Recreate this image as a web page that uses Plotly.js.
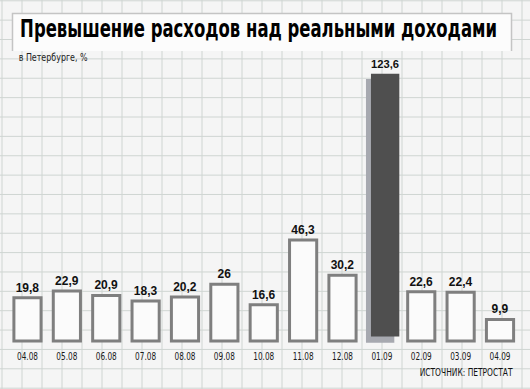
<!DOCTYPE html>
<html>
<head>
<meta charset="utf-8">
<script src="https://cdn.plot.ly/plotly-3.0.1.min.js"></script>
<style>html,body{margin:0;padding:0;background:#f5f5f5;}#chart{width:530px;height:389px;}</style>
</head>
<body>
<div id="chart"></div>
<script>
// ---- data ----
const categories = ['04.08','05.08','06.08','07.08','08.08','09.08','10.08','11.08','12.08','01.09','02.09','03.09','04.09'];
const values = [19.8, 22.9, 20.9, 18.3, 20.2, 26, 16.6, 46.3, 30.2, 123.6, 22.6, 22.4, 9.9];
const highlight = '01.09';
const titleText = 'Превышение расходов над реальными доходами';
const subtitleText = 'в Петербурге, %';
const sourceText = 'ИСТОЧНИК: ПЕТРОСТАТ';

const fmt = v => String(v).replace('.', ',');

const W = 530, H = 389;
const NARROW = 'DejaVu Sans Condensed, Liberation Sans Narrow, Arial Narrow, sans-serif';
const BOLD = 'Liberation Sans, Arial, sans-serif';
const HEAVY = 'DejaVu Sans Condensed, DejaVu Sans, sans-serif';

const normX = [], normY = [], normT = [];
let hiVal = null;
categories.forEach((c, i) => {
  if (c === highlight) { hiVal = values[i]; }
  else { normX.push(c); normY.push(values[i]); normT.push(fmt(values[i])); }
});

const traces = [
  {
    type: 'bar', x: normX, y: normY, width: 0.69,
    marker: {color: '#fbfbfb', line: {color: '#7f7f7f', width: 3}},
    text: normT, textposition: 'outside', cliponaxis: false,
    textfont: {family: BOLD, size: 12, color: '#111', weight: 'bold'},
    hoverinfo: 'skip'
  },
  { // 3D side / shadow of highlighted bar
    type: 'bar', x: [highlight], y: [hiVal - 2.6], base: [-0.8],
    width: 0.72, offset: -0.404,
    marker: {color: '#a7a9b0', line: {width: 0}}, hoverinfo: 'skip'
  },
  { // front face of highlighted bar
    type: 'bar', x: [highlight], y: [hiVal - 3], base: [2],
    width: 0.72, offset: -0.277,
    marker: {color: '#4f4f4f', line: {width: 0}},
    text: [fmt(hiVal)], textposition: 'outside', cliponaxis: false,
    textfont: {family: BOLD, size: 12, color: '#111', weight: 'bold'},
    hoverinfo: 'skip'
  }
];

// background grid & title box (pixel -> paper coords, margins are 0)
const px = x => x / W, py = y => 1 - y / H;
const shapes = [];
for (let x = 2; x <= W; x += 20) {
  shapes.push({type: 'line', xref: 'paper', yref: 'paper', x0: px(x), x1: px(x), y0: 0, y1: 1,
    line: {color: '#cfd5d2', width: 1}, layer: 'below'});
}
for (let y = 117 - 19.37 * 6; y <= H; y += 19.37) {
  shapes.push({type: 'line', xref: 'paper', yref: 'paper', x0: 0, x1: 1, y0: py(y), y1: py(y),
    line: {color: '#cfd5d2', width: 1}, layer: 'below'});
}
shapes.push({type: 'rect', xref: 'paper', yref: 'paper', x0: px(12), x1: px(512), y0: py(51), y1: py(13),
  fillcolor: '#fcfcfc', line: {width: 0}, layer: 'below'});
shapes.push({type: 'path', xref: 'paper', yref: 'paper',
  path: `M ${px(12.5)},${py(51)} L ${px(12.5)},${py(13.5)} L ${px(511.5)},${py(13.5)} L ${px(511.5)},${py(51)}`,
  line: {color: '#c4c4c4', width: 1.5}, layer: 'below'});

// target rendered widths (px) to mimic the condensed newspaper typefaces
const squeeze = {};
squeeze[titleText] = 477;
squeeze[subtitleText] = 69;
squeeze[sourceText] = 93;

const annotations = [
  {text: titleText, xref: 'paper', yref: 'paper', x: px(258.5), y: py(32), xanchor: 'center', yanchor: 'middle',
   showarrow: false, font: {family: HEAVY, size: 21, color: '#000', weight: 'bold'}},
  {text: subtitleText, xref: 'paper', yref: 'paper', x: px(53.5), y: py(58), xanchor: 'center', yanchor: 'middle',
   showarrow: false, font: {family: NARROW, size: 9, color: '#222'}},
  {text: sourceText, xref: 'paper', yref: 'paper', x: px(465.5), y: py(374), xanchor: 'center', yanchor: 'middle',
   showarrow: false, font: {family: NARROW, size: 9, color: '#111'}}
];

const layout = {
  width: W, height: H,
  margin: {l: 0, r: 0, t: 0, b: 0, pad: 0},
  paper_bgcolor: '#f5f5f5', plot_bgcolor: 'rgba(0,0,0,0)',
  barmode: 'overlay', showlegend: false,
  xaxis: {type: 'category', categoryorder: 'array', categoryarray: categories,
    range: [-0.5, 12.5], domain: [7.8 / W, 519.7 / W],
    showgrid: false, zeroline: false, showline: false, ticks: '',
    tickfont: {family: NARROW, size: 11, color: '#1a1a1a'}, fixedrange: true, automargin: false},
  yaxis: {range: [-3, 130], domain: [(H - 347.5) / H, (H - 57.6) / H], visible: false,
    showgrid: false, zeroline: false, fixedrange: true},
  shapes: shapes, annotations: annotations
};

const capTarget = {};
capTarget[titleText] = 25;
capTarget[subtitleText] = 10;
capTarget[sourceText] = 11;

Plotly.newPlot('chart', traces, layout, {displayModeBar: false, staticPlot: true}).then(gd => {
  gd.querySelectorAll('.annotation-text').forEach(t => {
    const key = t.textContent;
    const L = squeeze[key];
    if (!L) return;
    const fs0 = parseFloat(getComputedStyle(t).fontSize);
    const w0 = t.getComputedTextLength();
    const fs = fs0 * L / w0;            // size whose natural width equals target
    t.style.fontSize = fs + 'px';
    const k = capTarget[key] / fs;       // stretch vertically back to the reference cap height
    const y = parseFloat(t.getAttribute('y')) || 0;
    const fy = y + fs * 0.36;            // approximate visual middle -> keep centred
    t.setAttribute('transform', `matrix(1,0,0,${k},0,${fy * (1 - k)})`);
  });
  gd.querySelectorAll('.xtick text').forEach(t => {
    t.setAttribute('textLength', 21); t.setAttribute('lengthAdjust', 'spacingAndGlyphs');
  });
});
</script>
</body>
</html>
